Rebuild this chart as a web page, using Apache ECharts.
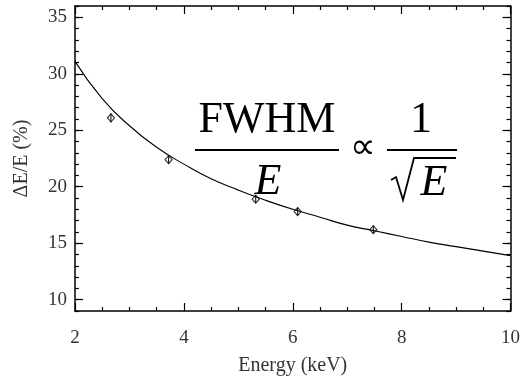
<!DOCTYPE html>
<html>
<head>
<meta charset="utf-8">
<script src="https://cdn.jsdelivr.net/npm/echarts@6/dist/echarts.min.js"></script>
<style>
  html, body { margin: 0; padding: 0; background: #fff; }
  #chart { width: 523px; height: 381px; }
</style>
</head>
<body>
<div id="chart"></div>
<script>
// Measured energy resolution points
const energyKeV = [2.66, 3.72, 5.32, 6.09, 7.48];
const resolutionPct = [26.1, 22.4, 18.9, 17.8, 16.2];
const resolutionErr = [0.4, 0.35, 0.35, 0.35, 0.35];

// Fitted 1/sqrt(E) curve, sampled along the energy axis
const fitEnergy = [2, 2.5, 3, 3.5, 4, 4.5, 5, 5.5, 6, 6.5, 7, 7.5, 8, 8.5, 9, 9.5, 10];
const fitResolution = [31.1, 27.8, 25.4, 23.5, 22.0, 20.7, 19.7, 18.8, 18.0, 17.3, 16.6, 16.1, 15.6, 15.1, 14.7, 14.3, 13.9];

// Axis ticks
const yMajorTicks = [10, 15, 20, 25, 30, 35];
const xName = 'Energy (keV)';
const yName = 'ΔE/E (%)';

const serif = 'Liberation Serif';
const labelColor = '#333';

const chart = echarts.init(document.getElementById('chart'), null, { renderer: 'canvas' });

const points = energyKeV.map((e, i) => [e, resolutionPct[i], resolutionErr[i]]);
const fitLine = fitEnergy.map((e, i) => [e, fitResolution[i]]);

const frameLine = { show: true, onZero: false, lineStyle: { color: '#000', width: 1.5 } };

function xAxisDef(pos, withLabels) {
  return {
    type: 'value', position: pos, min: 2, max: 10, interval: 2,
    axisLine: frameLine,
    axisTick: { show: true, inside: true, length: 8, lineStyle: { color: '#000', width: 1.2 } },
    minorTick: { show: true, splitNumber: 4, length: 4, lineStyle: { color: '#000', width: 1.2 } },
    axisLabel: withLabels
      ? { show: true, margin: 18, fontFamily: serif, fontSize: 19, color: labelColor }
      : { show: false },
    splitLine: { show: false },
    minorSplitLine: { show: false },
    name: withLabels ? xName : '',
    nameLocation: 'middle', nameGap: 45,
    nameTextStyle: { fontFamily: serif, fontSize: 20, color: labelColor }
  };
}

function yMajorDef(pos, withLabels) {
  return {
    type: 'value', position: pos, min: 9, max: 36,
    axisLine: frameLine,
    axisTick: { show: true, inside: true, length: 8, customValues: yMajorTicks, lineStyle: { color: '#000', width: 1.2 } },
    axisLabel: withLabels
      ? { show: true, customValues: yMajorTicks, margin: 8, fontFamily: serif, fontSize: 19, color: labelColor }
      : { show: false },
    splitLine: { show: false },
    name: withLabels ? yName : '',
    nameLocation: 'middle', nameGap: 43, nameRotate: 90,
    nameTextStyle: { fontFamily: serif, fontSize: 20, color: labelColor }
  };
}

function yMinorDef(pos) {
  return {
    type: 'value', position: pos, min: 9, max: 36, interval: 1,
    axisLine: { show: false },
    axisTick: { show: true, inside: true, length: 4, lineStyle: { color: '#000', width: 1.2 } },
    axisLabel: { show: false },
    splitLine: { show: false }
  };
}

chart.setOption({
  backgroundColor: '#fff',
  animation: false,
  grid: { left: 75, right: 11, top: 6, bottom: 68, containLabel: false },
  xAxis: [xAxisDef('bottom', true), xAxisDef('top', false)],
  yAxis: [yMajorDef('left', true), yMinorDef('left'), yMajorDef('right', false), yMinorDef('right')],
  series: [
    {
      type: 'line', xAxisIndex: 0, yAxisIndex: 0,
      data: fitLine, smooth: true, showSymbol: false, silent: true,
      lineStyle: { color: '#000', width: 1.1 }
    },
    {
      type: 'custom', xAxisIndex: 0, yAxisIndex: 0,
      data: points,
      renderItem: function (params, api) {
        const x = api.value(0), y = api.value(1), err = api.value(2);
        const top = api.coord([x, y + err]);
        const bot = api.coord([x, y - err]);
        return {
          type: 'line',
          shape: { x1: top[0], y1: top[1], x2: bot[0], y2: bot[1] },
          style: { stroke: '#000', lineWidth: 1 }
        };
      }
    },
    {
      type: 'scatter', xAxisIndex: 0, yAxisIndex: 0,
      data: points.map(p => [p[0], p[1]]),
      symbol: 'diamond', symbolSize: [7, 8],
      itemStyle: { color: 'rgba(0,0,0,0)', borderColor: '#000', borderWidth: 1.2 }
    }
  ],
  graphic: [
    // FWHM / E  ∝  1 / sqrt(E)
    { type: 'text', x: 267, y: 120, style: { text: 'FWHM', font: '44px "Liberation Serif"', fill: '#000', align: 'center', verticalAlign: 'middle' } },
    { type: 'line', shape: { x1: 195, y1: 150, x2: 339, y2: 150 }, style: { stroke: '#000', lineWidth: 2 } },
    { type: 'text', x: 268, y: 182, style: { text: 'E', font: 'italic 44px "Liberation Serif"', fill: '#000', align: 'center', verticalAlign: 'middle' } },
    { type: 'text', x: 363, y: 149, style: { text: '∝', font: '36px "Liberation Serif"', fill: '#000', align: 'center', verticalAlign: 'middle' } },
    { type: 'text', x: 421, y: 120, style: { text: '1', font: '44px "Liberation Serif"', fill: '#000', align: 'center', verticalAlign: 'middle' } },
    { type: 'line', shape: { x1: 387, y1: 150, x2: 457, y2: 150 }, style: { stroke: '#000', lineWidth: 2 } },
    { type: 'polyline', shape: { points: [[391, 180], [396, 177], [403, 200], [414, 158], [456, 158]] }, style: { stroke: '#000', lineWidth: 1.8, fill: null } },
    { type: 'text', x: 434, y: 183, style: { text: 'E', font: 'italic 44px "Liberation Serif"', fill: '#000', align: 'center', verticalAlign: 'middle' } }
  ]
});
</script>
</body>
</html>
